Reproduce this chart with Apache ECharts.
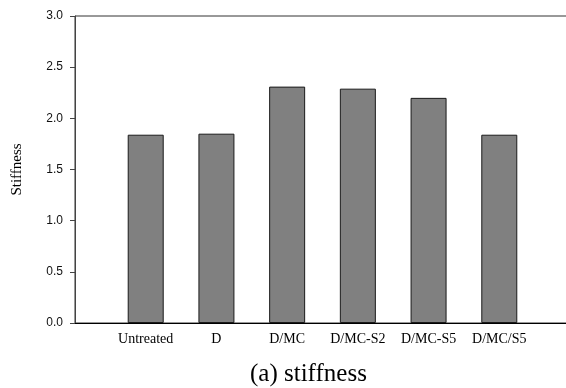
<!DOCTYPE html>
<html>
<head>
<meta charset="utf-8">
<script src="https://cdn.jsdelivr.net/npm/echarts@6/dist/echarts.min.js"></script>
<style>html,body{margin:0;padding:0;background:#fff}#c{width:566px;height:388px}</style>
</head>
<body>
<div id="c"></div>
<script>
const categories = ['Untreated', 'D', 'D/MC', 'D/MC-S2', 'D/MC-S5', 'D/MC/S5'];
const stiffness = [1.84, 1.85, 2.31, 2.29, 2.20, 1.84];
const yTicks = [0, 0.5, 1.0, 1.5, 2.0, 2.5, 3.0];
const yAxisTitle = 'Stiffness';
const chartTitle = '(a) stiffness';

// pad with empty slots at both ends so bars sit at positions 1..6 of 0..7
const xData = [''].concat(categories, ['']);
const yData = [null].concat(stiffness, [null]);

const chart = echarts.init(document.getElementById('c'));
chart.setOption({
  animation: false,
  backgroundColor: '#fff',
  title: {
    text: chartTitle,
    left: 245,
    top: 357,
    textStyle: { fontFamily: 'Liberation Serif', fontSize: 25, fontWeight: 'normal', color: '#000' }
  },
  grid: {
    left: 75, top: 16, width: 495, bottom: 65,
    outerBoundsMode: 'none',
    containLabel: false,
    show: true, borderColor: '#333', borderWidth: 1, backgroundColor: 'transparent'
  },
  xAxis: {
    type: 'category',
    data: xData,
    boundaryGap: false,
    axisLine: { lineStyle: { color: '#000', width: 1 } },
    axisTick: { show: false },
    axisLabel: {
      margin: 9, interval: 0,
      fontFamily: 'Liberation Serif', fontSize: 14, color: '#000'
    },
    splitLine: { show: false }
  },
  yAxis: {
    type: 'value',
    min: yTicks[0], max: yTicks[yTicks.length - 1], interval: 0.5,
    name: yAxisTitle,
    nameLocation: 'middle',
    nameGap: 50,
    nameTextStyle: { fontFamily: 'Liberation Serif', fontSize: 15, color: '#000' },
    axisLine: { show: true, lineStyle: { color: '#444', width: 1 } },
    axisTick: { show: true, inside: false, length: 5, lineStyle: { color: '#444' } },
    axisLabel: {
      margin: 12,
      fontFamily: 'Liberation Sans', fontSize: 12, color: '#111',
      formatter: v => v.toFixed(1)
    },
    splitLine: { show: false }
  },
  series: [{
    type: 'bar',
    data: yData,
    barWidth: 36,
    itemStyle: { color: '#808080', borderColor: '#1a1a1a', borderWidth: 1 }
  }]
});
</script>
</body>
</html>
